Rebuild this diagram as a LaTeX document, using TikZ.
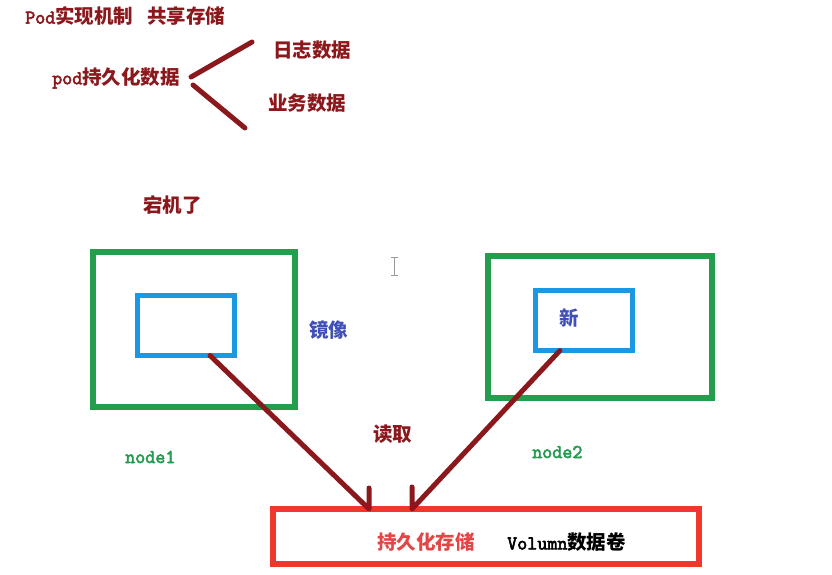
\documentclass[tikz,border=0pt]{standalone}
\usepackage{fontspec}
\usepackage{tikz}
\newfontfamily\cjk{Noto Sans CJK SC}
\newfontfamily\mono{Latin Modern Mono}[AutoFakeBold=3]
\usetikzlibrary{calc}
\definecolor{darkred}{RGB}{139,24,28}
\definecolor{hostgreen}{RGB}{34,158,76}
\definecolor{imgblue}{RGB}{26,152,228}
\definecolor{storered}{RGB}{240,56,42}
\definecolor{textblue}{RGB}{64,80,184}
\definecolor{labelgreen}{RGB}{40,155,82}
\definecolor{storetext}{RGB}{226,70,70}
\newcommand\zh[1]{{\cjk\fontsize{19.5pt}{22pt}\selectfont #1}}
\newcommand\en[1]{{\mono\fontsize{19.5pt}{22pt}\selectfont #1}}
\tikzset{
  lbl/.style={inner sep=0pt, anchor=west, font=\bfseries},
  hostbox/.style={draw=hostgreen, line width=5.5pt, outer sep=0pt},
  imgbox/.style={draw=imgblue, line width=5.5pt, outer sep=0pt},
  storebox/.style={draw=storered, line width=6pt, outer sep=0pt},
  link/.style={draw=darkred, line width=5pt, line cap=round, line join=round}
}

\begin{document}
\begin{tikzpicture}[x=1pt,y=-1pt]
    \useasboundingbox (0,0) rectangle (832,574);

    % notes at the top
    \node[lbl,text=darkred] (title) at (25,16) {\en{Pod}\zh{实现机制}\hspace{14pt}\zh{共享存储}};
    \node[lbl,text=darkred] (persist) at (52,78) {\en{pod}\zh{持久化数据}};
    \node[lbl,text=darkred] (log) at (273,50) {\zh{日志数据}};
    \node[lbl,text=darkred] (biz) at (268,103) {\zh{业务数据}};
    \draw[link] ([shift={(11,-1)}]persist.east) -- ([shift={(-21,-8)}]log.west);
    \draw[link] ([shift={(13,7)}]persist.east) -- ([shift={(-23,25)}]biz.west);
    \node[lbl,text=darkred] (crash) at (143,205) {\zh{宕机了}};

    % text cursor
    \draw[gray!80,thin] (391,257) -- (398,257) (394.5,257) -- (394.5,275) (391,275) -- (398,275);

    % node1
    \node[hostbox, minimum width=202pt, minimum height=155pt] (host1) at (194,329.5) {};
    \node[imgbox, minimum width=97pt, minimum height=60pt] (img1) at (186,325.5) {};
    \node[lbl,text=textblue] (mirror) at (309,330) {\zh{镜像}};
    \node[lbl,text=labelgreen] (n1label) at (125,457) {\en{node1}};

    % node2
    \node[hostbox, minimum width=224pt, minimum height=142pt] (host2) at (600,327) {};
    \node[imgbox, minimum width=97pt, minimum height=60pt] (img2) at (584,320.5) {};
    \node[lbl,text=textblue] (new) at (559,318) {\zh{新}};
    \node[lbl,text=labelgreen] (n2label) at (532,452) {\en{node2}};

    \node[lbl,text=darkred] (read) at (373,434) {\zh{读取}};

    % volume
    \node[storebox, minimum width=426pt, minimum height=55pt] (store) at (486,536.5) {};
    \node[lbl,text=storetext] (storelbl) at (377,542) {\zh{持久化存储}};
    \node[lbl,text=black] (vol) at (507,542) {\en{Volumn}\zh{数据卷}};

    \draw[link] ([xshift=24pt]img1.south) -- ([xshift=-117pt]store.north) -- ++(0,-21);
    \draw[link] ([xshift=-24pt]img2.south) -- ([xshift=-74pt]store.north) -- ++(0,-22);
\end{tikzpicture}
\end{document}
